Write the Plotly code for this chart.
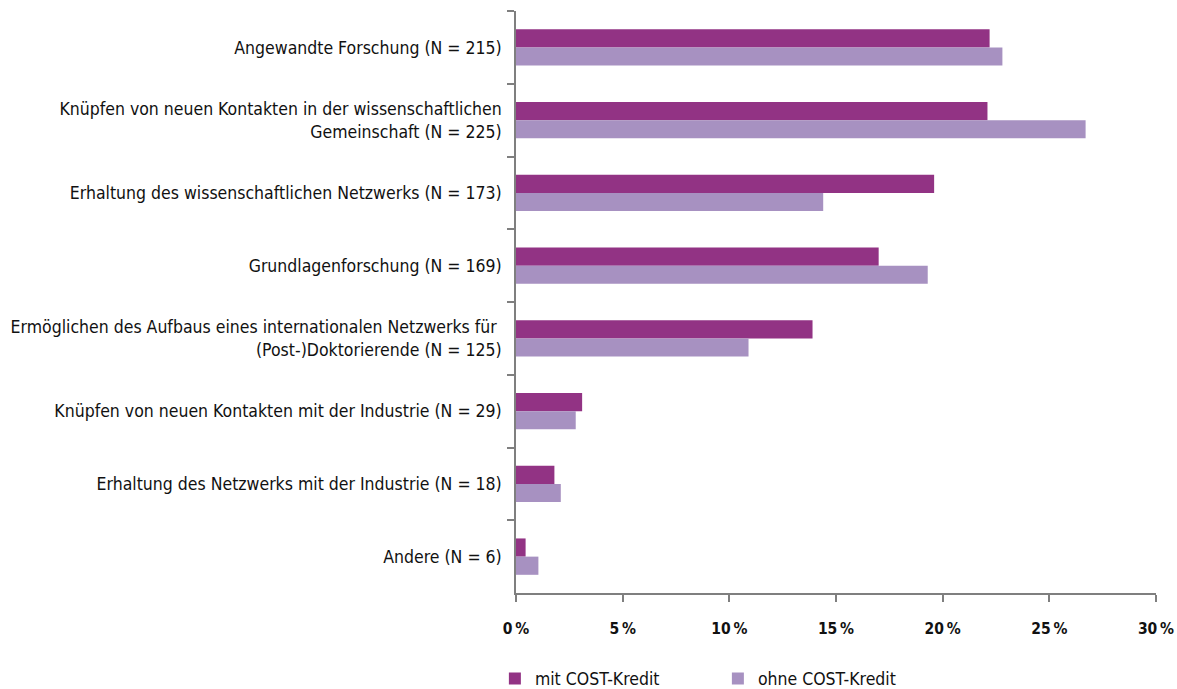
import plotly.graph_objects as go

categories = [
    "Angewandte Forschung (N = 215)",
    "Knüpfen von neuen Kontakten in der wissenschaftlichen<br>Gemeinschaft (N = 225)",
    "Erhaltung des wissenschaftlichen Netzwerks (N = 173)",
    "Grundlagenforschung (N = 169)",
    "Ermöglichen des Aufbaus eines internationalen Netzwerks für <br>(Post-)Doktorierende (N = 125)",
    "Knüpfen von neuen Kontakten mit der Industrie (N = 29)",
    "Erhaltung des Netzwerks mit der Industrie (N = 18)",
    "Andere (N = 6)",
]
mit_cost = [22.2, 22.1, 19.6, 17.0, 13.9, 3.1, 1.8, 0.45]
ohne_cost = [22.8, 26.7, 14.4, 19.3, 10.9, 2.8, 2.1, 1.05]
tick_vals = [0, 5, 10, 15, 20, 25, 30]
tick_text = ["0\u2009%", "5\u2009%", "10\u2009%", "15\u2009%", "20\u2009%", "25\u2009%", "30\u2009%"]

FONT = "DejaVu Sans Condensed, Liberation Sans Narrow, sans-serif"

fig = go.Figure()
fig.add_trace(go.Bar(y=categories, x=mit_cost, orientation="h", name="mit COST-Kredit",
                     marker=dict(color="#923384", line=dict(width=0))))
fig.add_trace(go.Bar(y=categories, x=ohne_cost, orientation="h", name="ohne COST-Kredit",
                     marker=dict(color="#A791C1", line=dict(width=0))))

fig.update_layout(
    width=1177, height=689,
    margin=dict(l=516, r=21, t=11, b=96, autoexpand=False),
    paper_bgcolor="white", plot_bgcolor="white",
    barmode="group", bargap=0.5, bargroupgap=0,
    font=dict(family=FONT, size=17.5, color="#111111"),
    showlegend=True,
    legend=dict(orientation="h", x=-0.033, xanchor="left", y=-0.116, yanchor="top",
                entrywidth=178, entrywidthmode="pixels", itemwidth=30,
                font=dict(family=FONT, size=17.5, color="#111111"),
                traceorder="normal"),
)
fig.update_yaxes(
    autorange="reversed", showline=True, linecolor="#7f7f7f", linewidth=1.5,
    ticks="outside", ticklen=7, tickcolor="#7f7f7f", tickwidth=1.5,
    tickson="boundaries", showgrid=False, zeroline=False,
    ticklabelstandoff=9,
)
fig.update_xaxes(
    range=[0, 30], tickvals=tick_vals, ticktext=tick_text,
    showline=True, linecolor="#7f7f7f", linewidth=1.5,
    ticks="outside", ticklen=7, tickcolor="#7f7f7f", tickwidth=1.5,
    showgrid=False, zeroline=False,
    tickfont=dict(family=FONT, size=15.5, color="#111111", weight="bold"),
    ticklabelstandoff=14, ticklabeloverflow="allow",
)

fig.write_html(
    "out.html",
    config={"displayModeBar": False},
    post_script="document.body.style.margin='0';document.body.style.overflow='hidden';",
)
